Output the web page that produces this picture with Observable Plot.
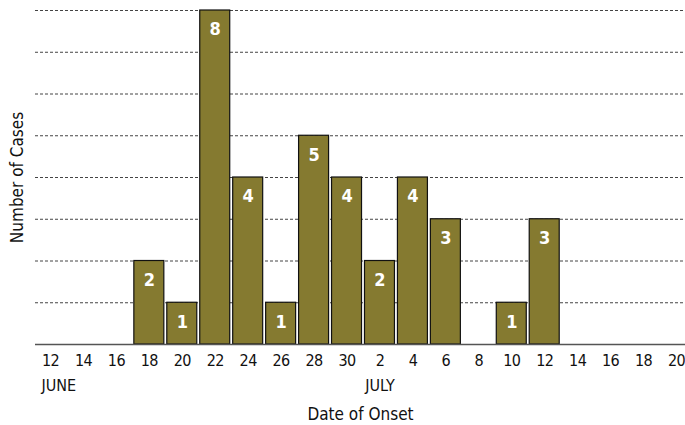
<!DOCTYPE html>
<html><head><meta charset="utf-8">
<script src="https://cdn.jsdelivr.net/npm/d3@7"></script>
<script src="https://cdn.jsdelivr.net/npm/@observablehq/plot@0.6"></script>
<style>
body{margin:0;background:#fff}
#chart svg{font-family:"DejaVu Sans Condensed","DejaVu Sans",sans-serif;font-stretch:condensed;display:block}
#chart svg text{font-stretch:condensed}
#chart svg g[aria-label="x-axis tick label"] text{letter-spacing:-0.6px}
</style>
</head><body><div id="chart"></div>
<script>
const junDays = [12,14,16,18,20,22,24,26,28,30];
const julDays = [2,4,6,8,10,12,14,16,18,20];
const categories = [...junDays.map(d => "Jun " + d), ...julDays.map(d => "Jul " + d)];
const barDates = ["Jun 18","Jun 20","Jun 22","Jun 24","Jun 26","Jun 28","Jun 30","Jul 2","Jul 4","Jul 6","Jul 10","Jul 12"];
const cases = [2,1,8,4,1,5,4,2,4,3,1,3];
const monthLabels = ["JUNE","JULY"];
const monthAt = ["Jun 12","Jul 2"];
const yTicks = [1,2,3,4,5,6,7,8];
const xTitle = "Date of Onset";
const yTitle = "Number of Cases";

const bars = barDates.map((d, i) => ({date: d, n: cases[i]}));
const font = "'DejaVu Sans Condensed','DejaVu Sans',sans-serif";

const chart = Plot.plot({
  width: 685,
  height: 425,
  marginLeft: 35,
  marginRight: 0,
  marginTop: 10,
  marginBottom: 81,
  style: {fontFamily: font, background: "#fff", color: "#111"},
  x: {domain: categories, range: [35, 691], paddingInner: 0.09, paddingOuter: 0, round: false, label: null},
  y: {domain: [0, 8], label: null},
  marks: [
    Plot.gridY(yTicks, {stroke: "#444", strokeOpacity: 1, strokeDasharray: "3,2", strokeWidth: 1}),
    Plot.barY(bars, {x: "date", y: "n", fill: "#857a30", stroke: "#111", strokeWidth: 1.2}),
    Plot.ruleY([0], {stroke: "#555", strokeWidth: 1.5}),
    Plot.text(bars, {x: "date", y: "n", text: "n", dy: 19, fill: "#fff", fontWeight: "bold", fontSize: 18, lineAnchor: "middle"}),
    Plot.axisX({tickSize: 0, tickPadding: 10, fontSize: 16, tickFormat: d => d.split(" ")[1], label: null}),
    Plot.axisY({ticks: [], label: null}),
    Plot.text([monthLabels[0]], {x: [monthAt[0]], frameAnchor: "bottom", dy: 41, dx: -9, fontSize: 16, textAnchor: "start", lineAnchor: "middle"}),
    Plot.text([monthLabels[1]], {x: [monthAt[1]], frameAnchor: "bottom", dy: 41, fontSize: 16, textAnchor: "middle", lineAnchor: "middle"}),
    Plot.text([xTitle], {frameAnchor: "bottom", dy: 70, fontSize: 17, lineAnchor: "middle", textAnchor: "middle"}),
    Plot.text([yTitle], {frameAnchor: "left", dx: -18, rotate: -90, fontSize: 17, lineAnchor: "middle", textAnchor: "middle"})
  ]
});
document.getElementById("chart").append(chart);
</script>
</body></html>
